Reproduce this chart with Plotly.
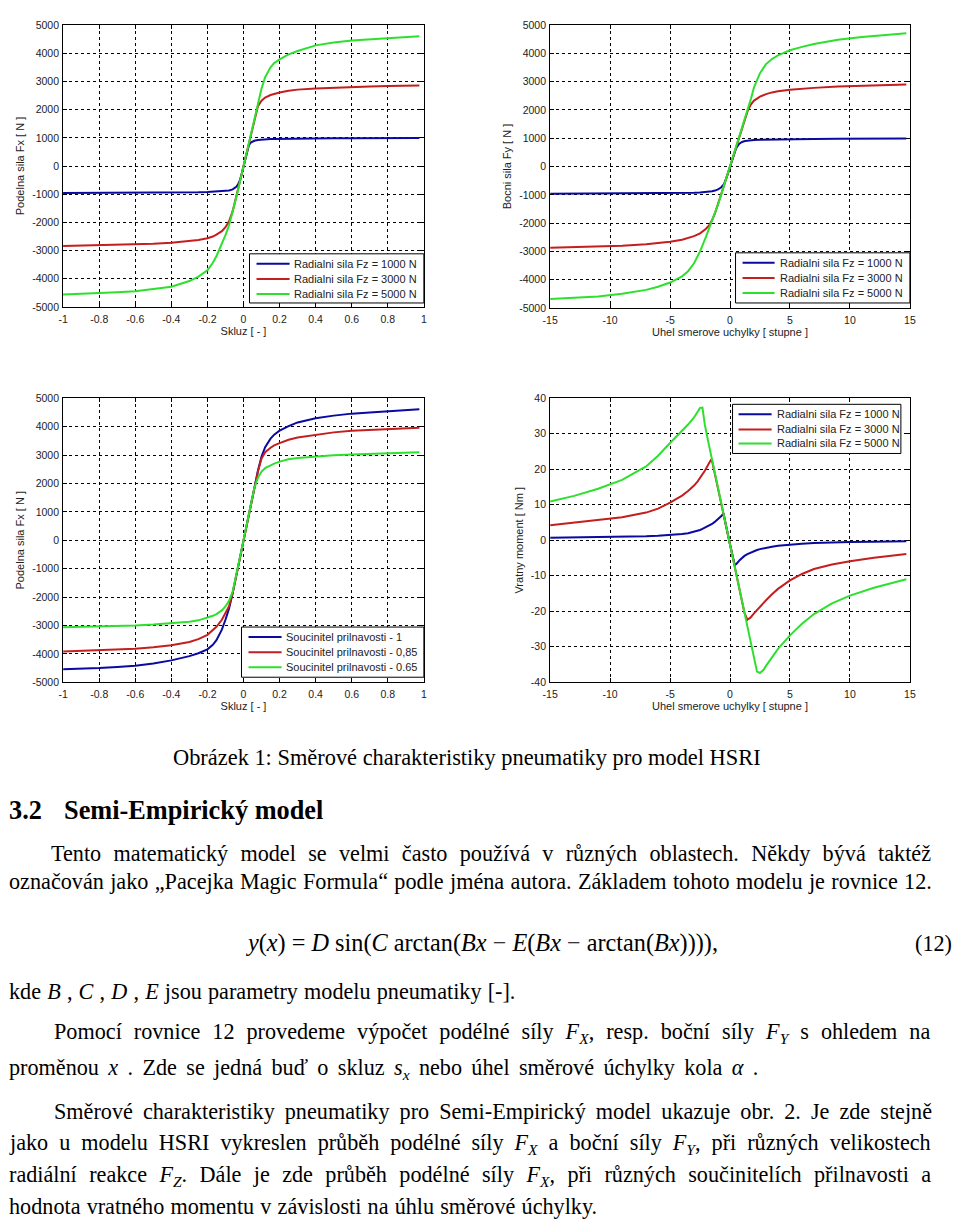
import plotly.graph_objects as go

# ---- data ----
slip = [-1, -0.9, -0.8, -0.7, -0.6, -0.5, -0.4, -0.3, -0.25, -0.2, -0.17, -0.15, -0.12, -0.1,
        -0.08, -0.06, -0.04, -0.03, -0.02, -0.01, 0, 0.01, 0.02, 0.03, 0.04, 0.06, 0.08, 0.1,
        0.12, 0.15, 0.17, 0.2, 0.25, 0.3, 0.4, 0.5, 0.6, 0.7, 0.8, 0.9, 0.975]

fx_1000 = [-960, -959, -958, -956, -954, -950, -945, -935, -928, -918, -910, -903, -892, -882,
           -865, -830, -740, -650, -510, -280, 0, 280, 540, 740, 830, 895, 925, 940,
           948, 955, 958, 962, 968, 973, 980, 985, 988, 990, 991, 992, 993]
fx_3000 = [-2840, -2825, -2810, -2795, -2780, -2755, -2720, -2665, -2620, -2560, -2500, -2430, -2310, -2170,
           -1960, -1600, -1110, -840, -560, -280, 0, 280, 560, 840, 1120, 1680, 2120, 2320,
           2430, 2520, 2560, 2610, 2670, 2710, 2750, 2780, 2800, 2820, 2840, 2850, 2860]
fx_5000 = [-4560, -4540, -4520, -4480, -4440, -4370, -4280, -4080, -3920, -3700, -3430, -3200, -2780, -2450,
           -2100, -1650, -1120, -840, -560, -280, 0, 280, 560, 840, 1120, 1680, 2240, 2750,
           3150, 3500, 3650, 3780, 3960, 4080, 4280, 4380, 4450, 4490, 4530, 4570, 4600]

fx_mu100 = [-4540, -4525, -4500, -4460, -4420, -4340, -4230, -4080, -3980, -3840, -3680, -3520, -3150, -2800,
            -2400, -1860, -1240, -930, -620, -310, 0, 310, 620, 930, 1240, 1860, 2450, 2950,
            3280, 3580, 3720, 3860, 4020, 4150, 4300, 4390, 4460, 4500, 4540, 4580, 4610]
fx_mu085 = [-3920, -3900, -3880, -3850, -3820, -3770, -3700, -3580, -3480, -3330, -3180, -3050, -2800, -2580,
            -2320, -1860, -1240, -930, -620, -310, 0, 310, 620, 930, 1240, 1860, 2420, 2880,
            3100, 3260, 3340, 3420, 3540, 3620, 3720, 3800, 3860, 3890, 3920, 3940, 3960]
fx_mu065 = [-3060, -3050, -3040, -3020, -3000, -2970, -2930, -2870, -2820, -2730, -2660, -2600, -2470, -2330,
            -2130, -1800, -1240, -930, -620, -310, 0, 310, 620, 930, 1240, 1840, 2200, 2420,
            2540, 2650, 2700, 2770, 2850, 2900, 2950, 2990, 3020, 3040, 3060, 3080, 3100]

angle = [-15, -13, -11, -9, -7, -6, -5, -4, -3.5, -3, -2.5, -2, -1.75, -1.5, -1.25, -1, -0.75, -0.5, -0.25,
         0, 0.25, 0.5, 0.75, 1, 1.25, 1.5, 1.75, 2, 2.5, 3, 3.5, 4, 5, 6, 7, 9, 11, 13, 14.7]
fy_1000 = [-960, -958, -956, -953, -950, -947, -944, -938, -932, -925, -915, -900, -888, -872, -850, -810, -740, -620, -340,
           0, 340, 640, 800, 870, 900, 918, 928, 935, 945, 950, 955, 958, 963, 967, 972, 978, 984, 988, 990]
fy_3000 = [-2870, -2855, -2835, -2800, -2750, -2710, -2660, -2590, -2530, -2460, -2360, -2200, -2080, -1900, -1650, -1340, -1010, -675, -340,
           0, 340, 675, 1010, 1350, 1690, 2000, 2200, 2330, 2470, 2560, 2620, 2660, 2710, 2750, 2780, 2830, 2860, 2880, 2900]
fy_5000 = [-4680, -4640, -4590, -4500, -4360, -4250, -4100, -3880, -3700, -3420, -3000, -2480, -2200, -1920, -1650, -1340, -1010, -675, -340,
           0, 340, 675, 1010, 1350, 1690, 2030, 2400, 2800, 3300, 3620, 3800, 3930, 4110, 4230, 4330, 4480, 4580, 4650, 4710]

angle_m = [-15, -13, -11, -9, -7, -6, -5, -4, -3.5, -3, -2.7, -2.5, -2.3, -2.1, -1.8, -1.6, -1.5, -1.3, -1, -0.7,
           -0.55, -0.4, 0, 0.4, 0.55, 0.8, 1, 1.2, 1.45, 1.7, 2, 2.25, 2.5, 2.8, 3, 3.5, 4, 5, 6, 7, 8.5, 10, 12, 14.7]
mz_1000 = [0.7, 0.75, 0.85, 0.95, 1.1, 1.25, 1.45, 1.75, 2.0, 2.4, 2.7, 2.9, 3.2, 3.5, 4.0, 4.4, 4.6, 5.1, 5.9, 6.9,
           7.6, 5.1, -1.2, -7.0, -6.6, -5.6, -4.9, -4.4, -3.9, -3.5, -3.0, -2.75, -2.5, -2.25, -2.1, -1.8, -1.55, -1.2, -1.0, -0.8, -0.6, -0.5, -0.4, -0.3]
mz_3000 = [4.2, 4.9, 5.6, 6.5, 7.8, 8.9, 10.6, 12.6, 13.9, 15.4, 16.6, 17.5, 18.5, 19.6, 21.4, 22.6, 22.4, 19.4, 14.6, 9.8,
           7.5, 5.1, -1.2, -7.6, -10.0, -14.0, -17.2, -20.4, -22.4, -21.8, -20.6, -19.6, -18.7, -17.6, -16.9, -15.2, -13.7, -11.3, -9.5, -8.1, -6.8, -5.9, -4.9, -3.9]
mz_5000 = [10.9, 12.5, 14.5, 17.0, 20.8, 23.8, 27.4, 30.8, 32.6, 34.6, 36.2, 37.3, 37.4, 32.5, 27.5, 24.3, 22.6, 19.4, 14.6, 9.8,
           7.5, 5.1, -1.2, -7.6, -10.0, -14.0, -17.2, -20.4, -24.4, -28.4, -33.2, -37.0, -37.4, -36.5, -35.4, -32.9, -30.6, -26.8, -23.5, -20.8, -17.8, -15.6, -13.4, -11.0]

slip_ticks = [-1, -0.8, -0.6, -0.4, -0.2, 0, 0.2, 0.4, 0.6, 0.8, 1]
slip_labels = ['-1', '-0.8', '-0.6', '-0.4', '-0.2', '0', '0.2', '0.4', '0.6', '0.8', '1']
angle_ticks = [-15, -10, -5, 0, 5, 10, 15]
angle_labels = ['-15', '-10', '-5', '0', '5', '10', '15']
force_ticks = [-5000, -4000, -3000, -2000, -1000, 0, 1000, 2000, 3000, 4000, 5000]
force_labels = ['-5000', '-4000', '-3000', '-2000', '-1000', '0', '1000', '2000', '3000', '4000', '5000']
moment_ticks = [-40, -30, -20, -10, 0, 10, 20, 30, 40]
moment_labels = ['-40', '-30', '-20', '-10', '0', '10', '20', '30', '40']

fz_names = ['Radialni sila Fz = 1000 N', 'Radialni sila Fz = 3000 N', 'Radialni sila Fz = 5000 N']
mu_names = ['Soucinitel prilnavosti - 1', 'Soucinitel prilnavosti - 0,85', 'Soucinitel prilnavosti - 0.65']
colors = ['#0a0aa0', '#c41e1e', '#2ee02e']

W, H = 960, 1220
sans = 'Liberation Sans, Arial'
serif = 'Liberation Serif, Times New Roman, serif'


def px(x, y):
    # target picture pixels -> paper fractions (the photo comes back inset by 8px)
    return (x - 8) / 944, 1 - (y - 8) / 1204


fig = go.Figure()

panels = [
    (slip, [fx_1000, fx_3000, fx_5000], fz_names, ''),
    (angle, [fy_1000, fy_3000, fy_5000], fz_names, '2'),
    (slip, [fx_mu100, fx_mu085, fx_mu065], mu_names, '3'),
    (angle_m, [mz_1000, mz_3000, mz_5000], fz_names, '4'),
]
for xs, ys, names, ax in panels:
    for y, name, c in zip(ys, names, colors):
        fig.add_trace(go.Scatter(x=xs, y=y, name=name, mode='lines', showlegend=False,
                                 line=dict(color=c, width=2),
                                 xaxis='x' + ax, yaxis='y' + ax))

axis_font = dict(family=sans, size=10.5, color='#222')
title_font = dict(family=sans, size=11, color='#222')
common = dict(showline=True, linecolor='black', linewidth=1, mirror='allticks',
              ticks='inside', ticklen=4, tickcolor='black',
              showgrid=True, gridcolor='black', gridwidth=1, griddash='dot',
              zeroline=False, tickfont=axis_font, fixedrange=True)

# plot areas in picture pixels: (left, top, right, bottom)
boxes = [(63, 27, 423, 308), (549, 27, 908, 309), (63, 399, 423, 682), (549, 399, 908, 682)]
xinfo = [(slip_ticks, slip_labels, [-1, 1], 'Skluz [ - ]'),
         (angle_ticks, angle_labels, [-15, 15], 'Uhel smerove uchylky [ stupne ]'),
         (slip_ticks, slip_labels, [-1, 1], 'Skluz [ - ]'),
         (angle_ticks, angle_labels, [-15, 15], 'Uhel smerove uchylky [ stupne ]')]
yinfo = [(force_ticks, force_labels, [-5000, 5000], 'Podelna sila Fx [ N ]', 5),
         (force_ticks, force_labels, [-5000, 5000], 'Bocni sila Fy [ N ]', 5),
         (force_ticks, force_labels, [-5000, 5000], 'Podelna sila Fx [ N ]', 5),
         (moment_ticks, moment_labels, [-40, 40], 'Vratny moment [ Nm ]', 5)]

layout = {}
for i, (box, xi, yi) in enumerate(zip(boxes, xinfo, yinfo)):
    k = '' if i == 0 else str(i + 1)
    l, t, r, b = box
    x0, y1 = px(l, t)
    x1, y0 = px(r, b)
    layout['xaxis' + k] = dict(common, domain=[x0, x1], range=xi[2], tickvals=xi[0], ticktext=xi[1],
                               anchor='y' + k, ticklabelstandoff=2,
                               title=dict(text=xi[3], font=title_font, standoff=2))
    layout['yaxis' + k] = dict(common, domain=[y0, y1], range=yi[2], tickvals=yi[0], ticktext=yi[1],
                               anchor='x' + k, ticklabelstandoff=1,
                               title=dict(text=yi[3], font=title_font, standoff=yi[4]))
fig.update_layout(**layout)

# MATLAB-style legend boxes: (box, line x0, line x1, text x, row ys, names)
legends = [
    ((249, 255, 423, 304), 256, 289, 292, [265, 280, 295], fz_names),
    ((734, 254, 908, 304), 741, 773, 777, [264, 279, 294], fz_names),
    ((241, 627, 423, 677), 248, 281, 284, [637, 652, 667], mu_names),
    ((731, 405, 899, 454), 737, 770, 774, [415, 430, 444], fz_names),
]
for (l, t, r, b), lx0, lx1, tx, rows, names in legends:
    x0, y1 = px(l, t)
    x1, y0 = px(r, b)
    fig.add_shape(type='rect', xref='paper', yref='paper', x0=x0, x1=x1, y0=y0, y1=y1,
                  line=dict(color='black', width=1), fillcolor='white', layer='above')
    for ry, name, c in zip(rows, names, colors):
        a0, ay = px(lx0, ry)
        a1, _ = px(lx1, ry)
        fig.add_shape(type='line', xref='paper', yref='paper', x0=a0, x1=a1, y0=ay, y1=ay,
                      line=dict(color=c, width=2), layer='above')
        tx_, _ = px(tx, ry)
        fig.add_annotation(x=tx_, y=ay, xref='paper', yref='paper', text=name, showarrow=False,
                           xanchor='left', yanchor='middle', align='left', borderpad=0,
                           font=dict(family=sans, size=11, color='#222'))

# ---- document text below the figure: (x, y, anchor, size, word spacing, text) ----
body = 22.2
text_lines = [
    (466, 757, 'center', 22.4, 0, 'Obrázek 1: Směrové charakteristiky pneumatiky pro model HSRI'),
    (8, 810, 'left', 26.3, 0, '<b>3.2</b>'),
    (63, 810, 'left', 26.3, 0, '<b>Semi-Empirický model</b>'),
    (50, 853, 'left', body, 6.77, 'Tento matematický model se velmi často používá v různých oblastech. Někdy bývá taktéž'),
    (8, 881, 'left', body, 0.8, 'označován jako „Pacejka Magic Formula“ podle jména autora. Základem tohoto modelu je rovnice 12.'),
    (480, 942, 'center', 24.25, 0, '<i>y</i>(<i>x</i>) = <i>D</i> sin(<i>C</i> arctan(<i>Bx</i> − <i>E</i>(<i>Bx</i> − arctan(<i>Bx</i>)))),'),
    (951, 942, 'right', body, 0, '(12)'),
    (8, 990, 'left', body, 0.6, 'kde <i>B</i> , <i>C</i> , <i>D</i> , <i>E</i> jsou parametry modelu pneumatiky [-].'),
    (53, 1032, 'left', body, 6.45, 'Pomocí rovnice 12 provedeme výpočet podélné síly <i>F</i><sub><i>X</i></sub>, resp. boční síly <i>F</i><sub><i>Y</i></sub> s ohledem na'),
    (8, 1067, 'left', body, 3.8, 'proměnou <i>x</i> . Zde se jedná buď o skluz <i>s</i><sub><i>x</i></sub> nebo úhel směrové úchylky kola <i>α</i> .'),
    (53, 1110, 'left', body, 4.48, 'Směrové charakteristiky pneumatiky pro Semi-Empirický model ukazuje obr. 2. Je zde stejně'),
    (8, 1142, 'left', body, 5.45, 'jako u modelu HSRI vykreslen průběh podélné síly <i>F</i><sub><i>X</i></sub> a boční síly <i>F</i><sub><i>Y</i></sub>, při různých velikostech'),
    (8, 1174, 'left', body, 6.83, 'radiální reakce <i>F</i><sub><i>Z</i></sub>. Dále je zde průběh podélné síly <i>F</i><sub><i>X</i></sub>, při různých součinitelích přilnavosti a'),
    (8, 1205, 'left', body, 0.6, 'hodnota vratného momentu v závislosti na úhlu směrové úchylky.'),
]
for x, y, anchor, size, ws, txt in text_lines:
    if ws:
        txt = '<span style="word-spacing:%.2fpx">%s</span>' % (ws, txt)
    ax_, ay_ = px(x, y)
    fig.add_annotation(x=ax_, y=ay_, xref='paper', yref='paper', text=txt, showarrow=False,
                       xanchor=anchor, yanchor='middle', align=anchor,
                       borderpad=0, font=dict(family=serif, size=size, color='black'))

fig.update_layout(width=W, height=H, margin=dict(l=0, r=0, t=0, b=0),
                  paper_bgcolor='white', plot_bgcolor='white')

fig.write_html("out.html", config={'displayModeBar': False},
               post_script="document.body.style.margin='0';")
